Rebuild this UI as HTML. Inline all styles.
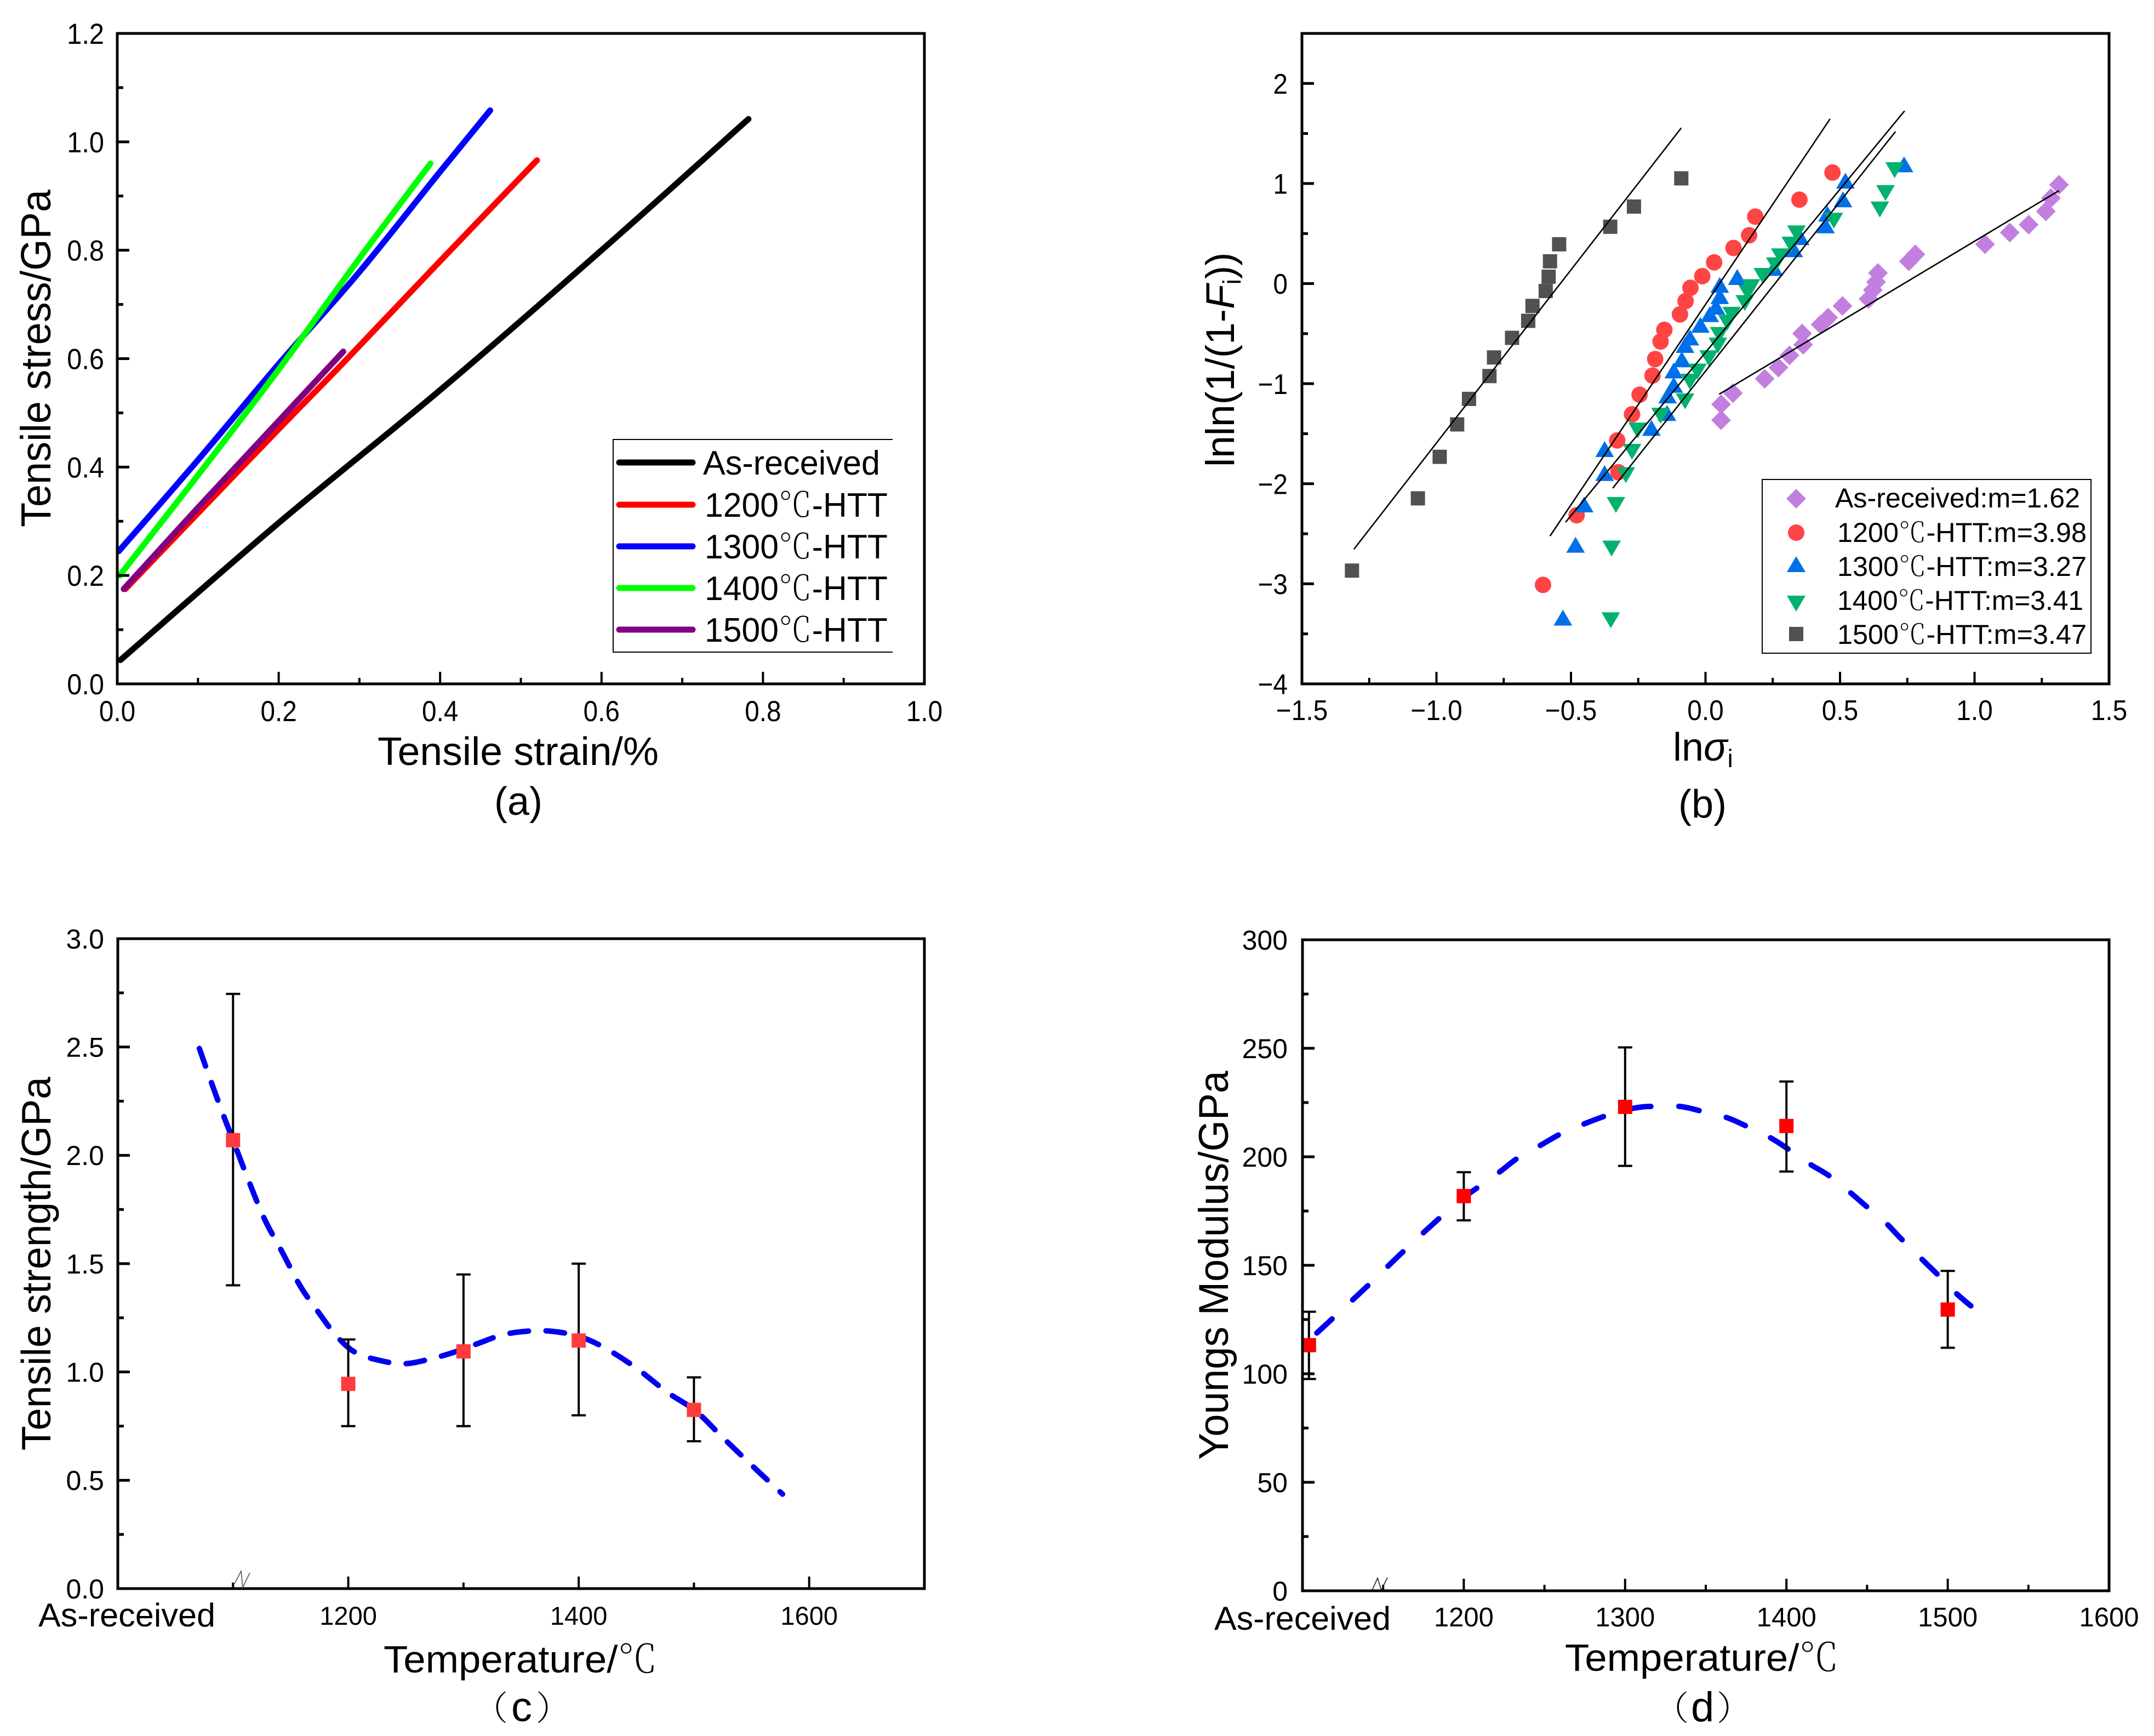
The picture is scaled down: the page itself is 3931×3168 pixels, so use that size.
<!DOCTYPE html>
<html lang="en">
<head>
<meta charset="utf-8">
<title>Tensile properties of heat-treated fibers</title>
<style>
html,body{margin:0;padding:0;background:#fff;}
svg{display:block;}
text{font-family:"Liberation Sans","Noto Sans CJK SC",sans-serif;fill:#000;}
.cjk{font-family:"Noto Serif CJK SC","Liberation Serif",serif;font-weight:200;}
</style>
</head>
<body>
<svg id="figure" xmlns="http://www.w3.org/2000/svg" width="3931" height="3168" viewBox="0 0 3931 3168">
<rect width="3931" height="3168" fill="#fff"/>

<g id="panel-a">
  <text x="689" y="1396" font-size="72" textLength="513" lengthAdjust="spacingAndGlyphs">Tensile strain/%</text>
  <text transform="translate(92,962) rotate(-90)" font-size="77" textLength="616" lengthAdjust="spacingAndGlyphs">Tensile stress/GPa</text>
  <text x="946" y="1487" font-size="72" text-anchor="middle">(a)</text>
</g>
<g id="panel-b">
  <text x="3053" y="1388" font-size="72">ln<tspan font-style="italic">σ</tspan><tspan font-size="46" dy="12">i</tspan></text>
  <text transform="translate(2252,852) rotate(-90)" font-size="73">lnln(1/(1-<tspan font-style="italic">F</tspan><tspan font-size="46" dy="12">i</tspan><tspan dy="-12">))</tspan></text>
  <text x="3107" y="1492" font-size="72" text-anchor="middle">(b)</text>
</g>
<g id="panel-c">
  <text x="700" y="3052" font-size="70" textLength="500" lengthAdjust="spacingAndGlyphs">Temperature/<tspan class="cjk">℃</tspan></text>
  <text transform="translate(92,2647) rotate(-90)" font-size="75" textLength="682" lengthAdjust="spacingAndGlyphs">Tensile strength/GPa</text>
  <text x="70" y="2968" font-size="60" textLength="323" lengthAdjust="spacingAndGlyphs">As-received</text>
  <text y="3141" font-size="76"><tspan class="cjk" font-size="62" x="865" y="3139">（</tspan><tspan x="933" y="3141">c</tspan><tspan class="cjk" font-size="62" x="978" y="3139">）</tspan></text>
</g>
<g id="panel-d">
  <text x="2856" y="3049" font-size="70" textLength="500" lengthAdjust="spacingAndGlyphs">Temperature/<tspan class="cjk">℃</tspan></text>
  <text transform="translate(2241,2664) rotate(-90)" font-size="76" textLength="710" lengthAdjust="spacingAndGlyphs">Youngs Modulus/GPa</text>
  <text x="2216" y="2974" font-size="60" textLength="322" lengthAdjust="spacingAndGlyphs">As-received</text>
  <text y="3141" font-size="76"><tspan class="cjk" font-size="62" x="3020" y="3139">（</tspan><tspan x="3086" y="3141">d</tspan><tspan class="cjk" font-size="62" x="3133" y="3139">）</tspan></text>
</g>

<g id="legend-a">
  <path d="M1629 802H1119V1190H1629" fill="#fff" stroke="#000" stroke-width="2"/>
  <line x1="1130" x2="1264" y1="844" y2="844" stroke="#000" stroke-width="11" stroke-linecap="round"/>
  <line x1="1130" x2="1264" y1="921" y2="921" stroke="#f00" stroke-width="11" stroke-linecap="round"/>
  <line x1="1130" x2="1264" y1="997" y2="997" stroke="#00f" stroke-width="11" stroke-linecap="round"/>
  <line x1="1130" x2="1264" y1="1073" y2="1073" stroke="#0f0" stroke-width="11" stroke-linecap="round"/>
  <line x1="1130" x2="1264" y1="1149" y2="1149" stroke="#800080" stroke-width="11" stroke-linecap="round"/>
  <text x="1283" y="866" font-size="62" textLength="323" lengthAdjust="spacingAndGlyphs">As-received</text>
  <text x="1286" y="943" font-size="62" textLength="334" lengthAdjust="spacingAndGlyphs">1200<tspan class="cjk">℃</tspan>-HTT</text>
  <text x="1286" y="1019" font-size="62" textLength="334" lengthAdjust="spacingAndGlyphs">1300<tspan class="cjk">℃</tspan>-HTT</text>
  <text x="1286" y="1095" font-size="62" textLength="334" lengthAdjust="spacingAndGlyphs">1400<tspan class="cjk">℃</tspan>-HTT</text>
  <text x="1286" y="1171" font-size="62" textLength="334" lengthAdjust="spacingAndGlyphs">1500<tspan class="cjk">℃</tspan>-HTT</text>
</g>

<g id="legend-b">
  <rect x="3216" y="875" width="600" height="317" fill="#fff" stroke="#000" stroke-width="2"/>
  <polygon points="3278,892 3296,910 3278,928 3260,910" fill="#c27fe0"/>
  <circle cx="3278" cy="972" r="15" fill="#ff4444"/>
  <polygon points="3278,1015 3295,1044 3261,1044" fill="#0070e8"/>
  <polygon points="3278,1116 3295,1087 3261,1087" fill="#00b26e"/>
  <rect x="3265" y="1144" width="26" height="26" fill="#515151"/>
  <text x="3349" y="926" font-size="50" textLength="447" lengthAdjust="spacingAndGlyphs">As-received:m=1.62</text>
  <text x="3353" y="989" font-size="50" textLength="455" lengthAdjust="spacingAndGlyphs">1200<tspan class="cjk">℃</tspan>-HTT:m=3.98</text>
  <text x="3353" y="1051" font-size="50" textLength="455" lengthAdjust="spacingAndGlyphs">1300<tspan class="cjk">℃</tspan>-HTT:m=3.27</text>
  <text x="3353" y="1113" font-size="50" textLength="449" lengthAdjust="spacingAndGlyphs">1400<tspan class="cjk">℃</tspan>-HTT:m=3.41</text>
  <text x="3353" y="1175" font-size="50" textLength="455" lengthAdjust="spacingAndGlyphs">1500<tspan class="cjk">℃</tspan>-HTT:m=3.47</text>
</g>

<polyline points="428,2890 440,2867 443,2897 456,2870" fill="none" stroke="#555" stroke-width="1.6"/>
<polyline points="2504,2902 2514,2880 2521,2902 2525,2893 2532,2879" fill="none" stroke="#222" stroke-width="1.6"/>
</svg>

<script>
/* ---------- Panel (a): stress-strain curves ---------- */
var curveAsReceivedStrain = [0.004, 0.2, 0.4, 0.6, 0.782];
var curveAsReceivedStress = [0.044, 0.297, 0.542, 0.80, 1.042];
var curve1200Strain = [0.01, 0.1, 0.2, 0.285, 0.4, 0.52];
var curve1200Stress = [0.175, 0.315, 0.47, 0.6, 0.78, 0.966];
var curve1300Strain = [0.002, 0.1, 0.2, 0.3, 0.4, 0.462];
var curve1300Stress = [0.245, 0.413, 0.59, 0.76, 0.945, 1.058];
var curve1400Strain = [0.003, 0.1, 0.2, 0.3, 0.388];
var curve1400Stress = [0.2, 0.385, 0.58, 0.785, 0.96];
var curve1500Strain = [0.008, 0.1, 0.2, 0.28];
var curve1500Stress = [0.175, 0.325, 0.485, 0.613];
var aXTickLabels = ['0.0', '0.2', '0.4', '0.6', '0.8', '1.0'];
var aYTickLabels = ['0.0', '0.2', '0.4', '0.6', '0.8', '1.0', '1.2'];

/* ---------- Panel (b): Weibull plot ---------- */
var weibullAsReceivedX = [0.058, 0.058, 0.102, 0.22, 0.271, 0.312, 0.363, 0.359, 0.428, 0.456, 0.444, 0.509, 0.606, 0.622, 0.634, 0.641, 0.756, 0.78, 1.039, 1.131, 1.201, 1.265, 1.284, 1.314];
var weibullAsReceivedY = [-1.365, -1.206, -1.094, -0.951, -0.839, -0.717, -0.611, -0.499, -0.409, -0.34, -0.372, -0.223, -0.154, -0.064, 0.016, 0.106, 0.223, 0.292, 0.393, 0.51, 0.589, 0.722, 0.855, 0.988];
var weibull1200X = [-0.604, -0.479, -0.324, -0.328, -0.273, -0.245, -0.197, -0.187, -0.167, -0.153, -0.095, -0.074, -0.056, -0.012, 0.032, 0.104, 0.162, 0.185, 0.349, 0.472];
var weibull1200Y = [-3.011, -2.315, -1.885, -1.567, -1.306, -1.11, -0.919, -0.754, -0.579, -0.462, -0.308, -0.175, -0.042, 0.074, 0.212, 0.356, 0.483, 0.669, 0.839, 1.11];
var weibull1300X = [-0.53, -0.483, -0.451, -0.375, -0.375, -0.201, -0.143, -0.141, -0.118, -0.118, -0.088, -0.076, -0.058, -0.019, 0.016, 0.039, 0.053, 0.053, 0.118, 0.254, 0.328, 0.352, 0.446, 0.453, 0.511, 0.52, 0.738];
var weibull1300Y = [-3.346, -2.618, -2.215, -1.901, -1.662, -1.45, -1.301, -1.126, -1.02, -0.876, -0.765, -0.621, -0.547, -0.42, -0.313, -0.239, -0.133, -0.021, 0.058, 0.149, 0.335, 0.457, 0.574, 0.69, 0.834, 1.02, 1.184];
var weibull1400X = [-0.352, -0.349, -0.333, -0.296, -0.273, -0.252, -0.167, -0.076, -0.058, -0.03, 0.012, 0.046, 0.051, 0.081, 0.097, 0.146, 0.157, 0.169, 0.213, 0.259, 0.278, 0.317, 0.338, 0.477, 0.648, 0.669, 0.703];
var weibull1400Y = [-3.356, -2.639, -2.204, -1.906, -1.673, -1.46, -1.312, -1.168, -0.972, -0.871, -0.738, -0.611, -0.505, -0.382, -0.303, -0.186, -0.085, -0.027, 0.085, 0.191, 0.281, 0.398, 0.51, 0.637, 0.749, 0.913, 1.142];
var weibull1500X = [-1.314, -1.069, -0.988, -0.923, -0.879, -0.803, -0.786, -0.719, -0.659, -0.643, -0.594, -0.583, -0.578, -0.544, -0.354, -0.266, -0.09];
var weibull1500Y = [-2.868, -2.146, -1.731, -1.407, -1.152, -0.924, -0.738, -0.542, -0.372, -0.223, -0.074, 0.069, 0.223, 0.393, 0.568, 0.77, 1.052];
var fitAsReceivedX = [0.051, 1.314];
var fitAsReceivedY = [-1.105, 0.929];
var fit1200X = [-0.578, 0.463];
var fit1200Y = [-2.523, 1.646];
var fit1300X = [-0.52, 0.74];
var fit1300Y = [-2.384, 1.726];
var fit1400X = [-0.345, 0.706];
var fit1400Y = [-2.045, 1.519];
var fit1500X = [-1.307, -0.09];
var fit1500Y = [-2.655, 1.556];
var bXTickLabels = ['−1.5', '−1.0', '−0.5', '0.0', '0.5', '1.0', '1.5'];
var bYTickLabels = ['−4', '−3', '−2', '−1', '0', '1', '2'];

/* ---------- Panel (c): tensile strength ---------- */
var strengthTemps = [1100, 1200, 1300, 1400, 1500];
var strengthValues = [2.07, 0.945, 1.095, 1.145, 0.825];
var strengthLow = [1.40, 0.75, 0.75, 0.80, 0.68];
var strengthHigh = [2.745, 1.15, 1.45, 1.50, 0.975];
var strengthFitT = [1070.8, 1081, 1092, 1100, 1110.6, 1126.6, 1142.5, 1158.4, 1174.3, 1190.3, 1206.2, 1227.5, 1248.7, 1269.9, 1291.2, 1312.4, 1333.7, 1354.9, 1376.2, 1401, 1424, 1450.5, 1477, 1501.5, 1524.9, 1551.4, 1576.9];
var strengthFitV = [2.493, 2.339, 2.18, 2.07, 1.923, 1.714, 1.555, 1.396, 1.274, 1.163, 1.09, 1.053, 1.038, 1.058, 1.09, 1.131, 1.171, 1.188, 1.188, 1.163, 1.107, 1.016, 0.906, 0.82, 0.698, 0.563, 0.436];
var cXTickLabels = ['1200', '1400', '1600'];
var cYTickLabels = ['0.0', '0.5', '1.0', '1.5', '2.0', '2.5', '3.0'];

/* ---------- Panel (d): Young's modulus ---------- */
var modulusTemps = [1104, 1200, 1300, 1400, 1500];
var modulusValues = [113.2, 181.9, 223, 214.2, 129.6];
var modulusLow = [97.6, 170.7, 195.8, 193.2, 112];
var modulusHigh = [128.6, 192.9, 250.4, 234.7, 147.4];
var modulusFitT = [1108.9, 1117.8, 1131.3, 1142.9, 1154.4, 1164.1, 1175.7, 1187.3, 1200, 1210.4, 1222, 1233.6, 1247.1, 1260.6, 1276.1, 1289.6, 1299.2, 1310.8, 1318.5, 1334, 1347.5, 1362.9, 1376.4, 1390, 1400.4, 1413.1, 1426.6, 1438.2, 1449.8, 1461.4, 1471, 1482.6, 1496.1, 1505.8, 1514.3];
var modulusFitV = [118.8, 124.9, 134.2, 142.3, 150.6, 157.5, 165.5, 173.3, 181.2, 186.8, 192.9, 199.5, 205.1, 210.8, 215.6, 219.3, 221.5, 223, 223.2, 223.2, 221, 218.1, 213.7, 208.8, 203.9, 197.3, 191.2, 184.4, 177, 169.7, 162.3, 153.8, 144, 136.7, 131.3];
var dXTickLabels = ['1200', '1300', '1400', '1500', '1600'];
var dYTickLabels = ['0', '50', '100', '150', '200', '250', '300'];

var NS = 'http://www.w3.org/2000/svg';

function node(tag, attrs, parent) {
  var e = document.createElementNS(NS, tag);
  for (var k in attrs) { e.setAttribute(k, attrs[k]); }
  parent.appendChild(e);
  return e;
}

function linear(d0, d1, r0, r1) {
  return function (v) { return r0 + (v - d0) / (d1 - d0) * (r1 - r0); };
}

function smoothPath(xs, ys, sx, sy) {
  var p = xs.map(function (x, i) { return [sx(x), sy(ys[i])]; });
  var d = 'M' + p[0][0] + ' ' + p[0][1];
  for (var i = 0; i < p.length - 1; i++) {
    var a = p[Math.max(i - 1, 0)], b = p[i], c = p[i + 1], e = p[Math.min(i + 2, p.length - 1)];
    d += 'C' + (b[0] + (c[0] - a[0]) / 6) + ' ' + (b[1] + (c[1] - a[1]) / 6) + ' ' +
         (c[0] - (e[0] - b[0]) / 6) + ' ' + (c[1] - (e[1] - b[1]) / 6) + ' ' + c[0] + ' ' + c[1];
  }
  return d;
}

function drawFrame(parent, box) {
  var f = node('rect', {x: box.l, y: box.t, width: box.r - box.l, height: box.b - box.t, fill: 'none', stroke: '#000', 'stroke-width': 5}, parent);
  
  
}

function drawXAxis(parent, box, sx, values, minors, labels, style) {
  values.forEach(function (v, i) {
    var t = node('line', {x1: sx(v), x2: sx(v), y1: box.b, y2: box.b - 22, stroke: '#000', 'stroke-width': 4}, parent);
    
    
    var lab = node('text', {'font-size': style.fs, 'text-anchor': 'middle', transform: 'translate(' + sx(v) + ',' + style.base + ') scale(' + style.sx + ',1)'}, parent);
    lab.textContent = labels[i];
    
    
  });
  minors.forEach(function (v) {
    var t = node('line', {x1: sx(v), x2: sx(v), y1: box.b, y2: box.b - 11, stroke: '#000', 'stroke-width': 4}, parent);
    
    
  });
}

function drawYAxis(parent, box, sy, values, minors, labels, style) {
  values.forEach(function (v, i) {
    var t = node('line', {x1: box.l, x2: box.l + 22, y1: sy(v), y2: sy(v), stroke: '#000', 'stroke-width': 5}, parent);
    
    
    var lab = node('text', {'font-size': style.fs, 'text-anchor': 'end', transform: 'translate(' + style.right + ',' + (sy(v) + style.fs * 0.358) + ') scale(' + style.sx + ',1)'}, parent);
    lab.textContent = labels[i];
    
    
  });
  minors.forEach(function (v) {
    var t = node('line', {x1: box.l, x2: box.l + 11, y1: sy(v), y2: sy(v), stroke: '#000', 'stroke-width': 5}, parent);
    
    
  });
}

function drawCurve(parent, xs, ys, sx, sy, color, name) {
  var c = node('path', {d: smoothPath(xs, ys, sx, sy), fill: 'none', stroke: color, 'stroke-width': 11, 'stroke-linecap': 'round', 'stroke-linejoin': 'round'}, parent);
  
  
}

function drawMarkers(parent, shape, xs, ys, sx, sy, color, name) {
  xs.forEach(function (x, i) {
    var cx = sx(x), cy = sy(ys[i]), m;
    if (shape === 'circle') {
      m = node('circle', {cx: cx, cy: cy, r: 15, fill: color}, parent);
    } else if (shape === 'square') {
      m = node('rect', {x: cx - 13, y: cy - 13, width: 26, height: 26, fill: color}, parent);
    } else if (shape === 'diamond') {
      m = node('polygon', {points: cx + ',' + (cy - 18) + ' ' + (cx + 18) + ',' + cy + ' ' + cx + ',' + (cy + 18) + ' ' + (cx - 18) + ',' + cy, fill: color}, parent);
    } else if (shape === 'up') {
      m = node('polygon', {points: cx + ',' + (cy - 16) + ' ' + (cx + 17) + ',' + (cy + 13) + ' ' + (cx - 17) + ',' + (cy + 13), fill: color}, parent);
    } else {
      m = node('polygon', {points: cx + ',' + (cy + 16) + ' ' + (cx + 17) + ',' + (cy - 13) + ' ' + (cx - 17) + ',' + (cy - 13), fill: color}, parent);
    }
    
    
  });
}

function drawFit(parent, xs, ys, sx, sy, name) {
  var l = node('line', {x1: sx(xs[0]), y1: sy(ys[0]), x2: sx(xs[1]), y2: sy(ys[1]), stroke: '#000', 'stroke-width': 2.6}, parent);
  
  
}

function drawErrors(parent, xs, lows, highs, sx, sy) {
  xs.forEach(function (x, i) {
    var px = sx(x);
    var stem = node('line', {x1: px, x2: px, y1: sy(lows[i]), y2: sy(highs[i]), stroke: '#000', 'stroke-width': 4}, parent);
    
    
    var capLow = node('line', {x1: px - 13, x2: px + 13, y1: sy(lows[i]), y2: sy(lows[i]), stroke: '#000', 'stroke-width': 4}, parent);
    
    
    var capHigh = node('line', {x1: px - 13, x2: px + 13, y1: sy(highs[i]), y2: sy(highs[i]), stroke: '#000', 'stroke-width': 4}, parent);
    
    
  });
}

function drawDashed(parent, xs, ys, sx, sy, dash, name) {
  var c = node('path', {d: smoothPath(xs, ys, sx, sy), fill: 'none', stroke: '#0000f0', 'stroke-width': 10, 'stroke-linecap': 'round', 'stroke-dasharray': dash}, parent);
  
  
}

function tickValues(from, to, step) {
  var out = [];
  for (var i = 0; from + i * step <= to + 1e-9; i++) { out.push(from + i * step); }
  return out;
}

/* Panel a */
(function () {
  var g = document.getElementById('panel-a');
  var box = {l: 214, r: 1687, t: 61, b: 1248};
  var sx = linear(0, 1, box.l, box.r), sy = linear(0, 1.2, box.b, box.t);
  drawCurve(g, curveAsReceivedStrain, curveAsReceivedStress, sx, sy, '#000', 'curve-as-received');
  drawCurve(g, curve1200Strain, curve1200Stress, sx, sy, '#f00', 'curve-1200');
  drawCurve(g, curve1300Strain, curve1300Stress, sx, sy, '#00f', 'curve-1300');
  drawCurve(g, curve1400Strain, curve1400Stress, sx, sy, '#0f0', 'curve-1400');
  drawCurve(g, curve1500Strain, curve1500Stress, sx, sy, '#800080', 'curve-1500');
  drawFrame(g, box);
  drawXAxis(g, box, sx, tickValues(0, 1, 0.2), tickValues(0.1, 0.9, 0.2), aXTickLabels, {fs: 53, sx: 0.9, base: 1316});
  drawYAxis(g, box, sy, tickValues(0, 1.2, 0.2), tickValues(0.1, 1.1, 0.2), aYTickLabels, {fs: 53, sx: 0.92, right: 190});
})();

/* Panel b */
(function () {
  var g = document.getElementById('panel-b');
  var box = {l: 2376, r: 3849, t: 61, b: 1248};
  var sx = linear(-1.5, 1.5, box.l, box.r), sy = linear(-4, 2.5, box.b, box.t);
  drawMarkers(g, 'diamond', weibullAsReceivedX, weibullAsReceivedY, sx, sy, '#c27fe0', 'point-as-received');
  drawMarkers(g, 'circle', weibull1200X, weibull1200Y, sx, sy, '#ff4444', 'point-1200');
  drawMarkers(g, 'up', weibull1300X, weibull1300Y, sx, sy, '#0070e8', 'point-1300');
  drawMarkers(g, 'down', weibull1400X, weibull1400Y, sx, sy, '#00b26e', 'point-1400');
  drawMarkers(g, 'square', weibull1500X, weibull1500Y, sx, sy, '#515151', 'point-1500');
  drawFit(g, fitAsReceivedX, fitAsReceivedY, sx, sy, 'fit-as-received');
  drawFit(g, fit1200X, fit1200Y, sx, sy, 'fit-1200');
  drawFit(g, fit1300X, fit1300Y, sx, sy, 'fit-1300');
  drawFit(g, fit1400X, fit1400Y, sx, sy, 'fit-1400');
  drawFit(g, fit1500X, fit1500Y, sx, sy, 'fit-1500');
  drawFrame(g, box);
  drawXAxis(g, box, sx, tickValues(-1.5, 1.5, 0.5), tickValues(-1.25, 1.25, 0.5), bXTickLabels, {fs: 52, sx: 0.92, base: 1314});
  drawYAxis(g, box, sy, tickValues(-4, 2, 1), tickValues(-3.5, 1.5, 1), bYTickLabels, {fs: 52, sx: 0.92, right: 2350});
})();

/* Panel c */
(function () {
  var g = document.getElementById('panel-c');
  var box = {l: 215, r: 1687, t: 1713, b: 2899};
  var sx = linear(1000, 1700, box.l, box.r), sy = linear(0, 3, box.b, box.t);
  drawDashed(g, strengthFitT, strengthFitV, sx, sy, '34 32', 'trend-curve');
  drawErrors(g, strengthTemps, strengthLow, strengthHigh, sx, sy);
  drawMarkers(g, 'square', strengthTemps, strengthValues, sx, sy, '#ff3b3b', 'strength-point');
  drawFrame(g, box);
  drawXAxis(g, box, sx, tickValues(1200, 1600, 200), tickValues(1100, 1500, 200), cXTickLabels, {fs: 47, sx: 1, base: 2965});
  drawYAxis(g, box, sy, tickValues(0, 3, 0.5), tickValues(0.25, 2.75, 0.5), cYTickLabels, {fs: 50, sx: 1, right: 190});
})();

/* Panel d */
(function () {
  var g = document.getElementById('panel-d');
  var box = {l: 2377, r: 3849, t: 1715, b: 2903};
  var sx = linear(1100, 1600, box.l, box.r), sy = linear(0, 300, box.b, box.t);
  drawDashed(g, modulusFitT, modulusFitV, sx, sy, '38 51', 'trend-curve');
  drawErrors(g, modulusTemps, modulusLow, modulusHigh, sx, sy);
  drawMarkers(g, 'square', modulusTemps, modulusValues, sx, sy, '#ff0000', 'modulus-point');
  drawFrame(g, box);
  drawXAxis(g, box, sx, tickValues(1200, 1600, 100), tickValues(1150, 1550, 100), dXTickLabels, {fs: 49, sx: 1, base: 2968});
  drawYAxis(g, box, sy, tickValues(0, 300, 50), tickValues(25, 275, 50), dYTickLabels, {fs: 50, sx: 1, right: 2350});
})();

/* Legends sit above the plot frames. */
var figure = document.getElementById('figure');
figure.appendChild(document.getElementById('legend-a'));
figure.appendChild(document.getElementById('legend-b'));
</script>
</body>
</html>
